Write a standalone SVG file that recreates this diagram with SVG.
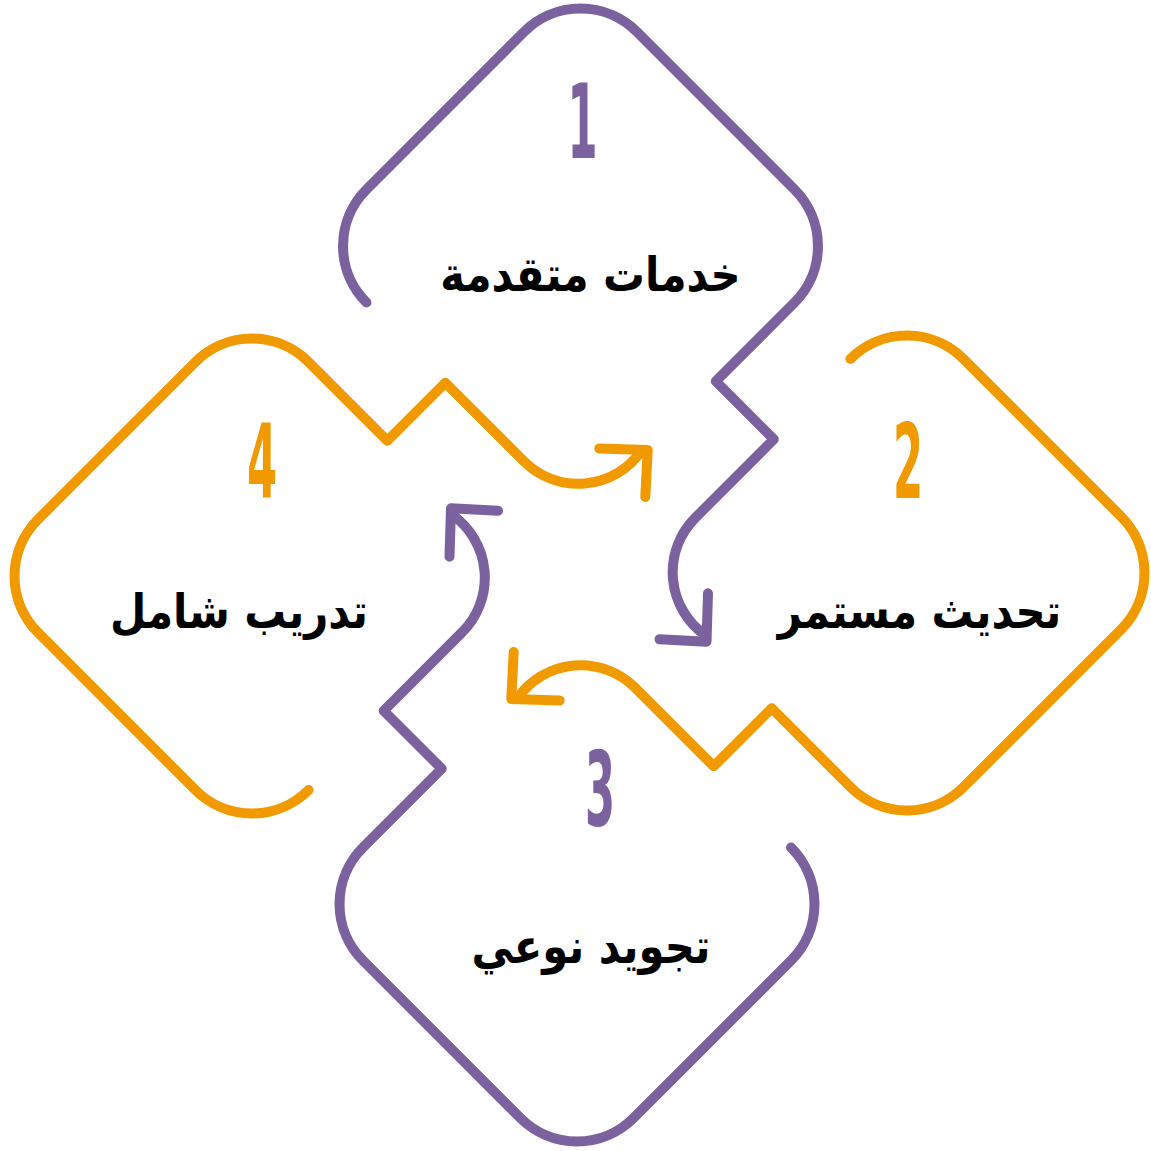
<svg xmlns="http://www.w3.org/2000/svg" width="1151" height="1151" viewBox="0 0 1151 1151">
<style>
.ln{fill:none;stroke-width:10;stroke-linecap:round;stroke-linejoin:round}
.p{stroke:#7B629E}
.o{stroke:#F09A00}
.lbl{font-family:"DejaVu Sans",sans-serif;font-weight:bold;font-size:48px;fill:#000;text-anchor:middle}
.num{font-family:"DejaVu Sans",sans-serif;font-weight:bold;font-size:103px;text-anchor:middle}
.np{fill:#7B629E}
.no{fill:#F09A00}
</style>
<defs>
<path id="loop" d="M -214.03,56.57 A 80 80 0 0 1 -214.03,-56.57 L -56.57,-214.03 A 80 80 0 0 1 56.57,-214.03 L 214.03,-56.57 A 80 80 0 0 1 214.03,56.57 L 135.3,135.3 L 193.3,193.3 L 114.5,272.1 A 77 77 0 0 0 124.5,389"/>
<path id="head" d="M 127.5,347.3 L 126,395.7 L 79,393.3"/>
</defs>
<g id="connectors">
<g transform="translate(580.5,246)" class="ln p"><use href="#loop"/><use href="#head"/></g>
<g transform="translate(907,573) rotate(90)" class="ln o"><use href="#loop"/><use href="#head"/></g>
<g transform="translate(577,904) rotate(180)" class="ln p"><use href="#loop"/><use href="#head"/></g>
<g transform="translate(252,576) rotate(270)" class="ln o"><use href="#loop"/><use href="#head"/></g>
</g>
<g id="node1">
<text class="num np" transform="translate(582.5,158) scale(0.42,1)">1</text>
<text class="lbl" transform="translate(590.5,291) scale(0.87,1)" direction="rtl">خدمات متقدمة</text>
</g>
<g id="node2">
<text class="num no" transform="translate(908,498) scale(0.42,1)">2</text>
<text class="lbl" transform="translate(919.5,628) scale(0.87,1)" direction="rtl">تحديث مستمر</text>
</g>
<g id="node3">
<text class="num np" transform="translate(600,826) scale(0.42,1)">3</text>
<text class="lbl" transform="translate(591,963) scale(0.87,1)" direction="rtl">تجويد نوعي</text>
</g>
<g id="node4">
<text class="num no" transform="translate(262,498) scale(0.42,1)">4</text>
<text class="lbl" transform="translate(239,628) scale(0.87,1)" direction="rtl">تدريب شامل</text>
</g>
</svg>
